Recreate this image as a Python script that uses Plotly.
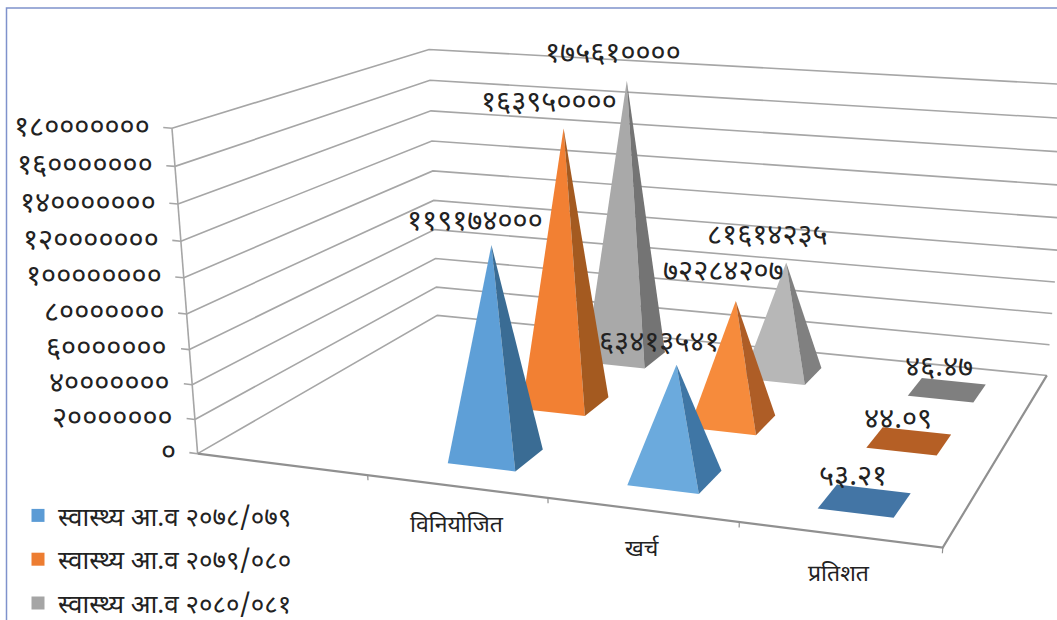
import numpy as np
import plotly.graph_objects as go

categories = ["", "विनियोजित", "खर्च", "प्रतिशत"]
series_names = ["स्वास्थ्य आ.व २०७८/०७९", "स्वास्थ्य आ.व २०७९/०८०", "स्वास्थ्य आ.व २०८०/०८१"]
values_a = [None, 119174000, 63413541, 53.21]
values_b = [None, 163950000, 72284207, 44.09]
# the reference prints 81614235 for the second grey pyramid but draws it near 71 million
values_c = [None, 175610000, 71000000, 46.47]
labels_a = [None, "११९१७४०००", "६३४१३५४१", "५३.२१"]
labels_b = [None, "१६३९५००००", "७२२८४२०७", "४४.०९"]
labels_c = [None, "१७५६१००००", "८१६१४२३५", "४६.४७"]
z_ticks = [0, 20000000, 40000000, 60000000, 80000000, 100000000, 120000000, 140000000, 160000000, 180000000]
z_tick_labels = ["०", "२०००००००", "४०००००००", "६०००००००", "८०००००००", "१००००००००", "१२०००००००", "१४०००००००", "१६०००००००", "१८०००००००"]
W, H = 1057.0, 620.0

# perspective of the chart box: (category, series depth, value / 1e8) -> page pixels
M = np.array([[159.74411, 115.11778, -19.970539, 197.63012],
              [8.0740592, -20.696119, -185.08567, 453.67447],
              [-0.028151092, 0.080549231, -0.033232615, 1.0]])
wx, wy = 0.19148, 0.18844   # half size of a pyramid base

def proj(pts):
    pts = np.asarray(pts, float)
    h = np.c_[pts, np.ones(len(pts))] @ M.T
    return h[:, :2] / h[:, 2:3]

FRONT = [["#5E9FD7", "#6BAADD", "#4375A5"], ["#F28033", "#F68B3C", "#B55F25"], ["#A9A9A9", "#B7B7B7", "#7F7F7F"]]
SIDE = [["#3A6C94", "#3F76A5", "#4375A5"], ["#A45A20", "#AE5D26", "#B55F25"], ["#747474", "#808080", "#7F7F7F"]]
SWATCH = ["#5B9BD5", "#ED7D31", "#A5A5A5"]
SHIFTS = {(0,1):(-16,-22),(1,1):(-15,-24),(2,1):(-14,-26),(0,2):(-17,-21),(1,2):(-12,-28),(2,2):(-19,-26),(0,3):(-12,-23),(1,3):(-11,-20),(2,3):(-8,-21)}
TEXT = "#222222"
FONT = "Noto Sans Devanagari, Noto Sans, sans-serif"
all_vals = [values_a, values_b, values_c]
all_labels = [labels_a, labels_b, labels_c]
scale = 1e8

fig = go.Figure()
def poly(pts, color):
    xy = proj(pts)
    fig.add_trace(go.Scatter(x=list(xy[:,0])+[xy[0,0]], y=list(xy[:,1])+[xy[0,1]], mode="lines", fill="toself", fillcolor=color,
        line=dict(width=0, color=color), showlegend=False, hoverinfo="skip"))
def lines(segs, color, width):
    xs, ys = [], []
    for s in segs:
        xy = proj(s)
        xs += list(xy[:,0]) + [None]; ys += list(xy[:,1]) + [None]
    fig.add_trace(go.Scatter(x=xs, y=ys, mode="lines", line=dict(color=color, width=width), showlegend=False, hoverinfo="skip"))

zs = [z / scale for z in z_ticks]
nx, ny = len(categories), len(series_names)
lines([[(0,0,z),(0,ny,z),(nx,ny,z)] for z in zs] + [[(0,0,0),(0,0,zs[-1])]] + [[(-.05,0,z),(0,0,z)] for z in zs], "#A6A6A6", 1.6)
lines([[(0,0,0),(nx,0,0),(nx,ny,0)]], "#909090", 2.2)
lines([[(k,0,0),(k,0,-.03)] for k in range(1, nx+1)], "#909090", 1.2)

anns = []
for j in range(ny-1, -1, -1):
    for i, v in enumerate(all_vals[j]):
        if v is None:
            continue
        z = v / scale
        cx, cy = i + .5, j + .5
        fl, fr, rb, bl = (cx-wx,cy-wy,0), (cx+wx,cy-wy,0), (cx+wx,cy+wy,0), (cx-wx,cy+wy,0)
        if z < 0.01:
            poly([fl, fr, rb, bl], FRONT[j][i-1])
        else:
            top = (cx, cy, z)
            poly([fl, fr, top], FRONT[j][i-1])
            poly([fr, rb, top], SIDE[j][i-1])
        a = proj([(cx, cy, z)])[0]
        dx, dy = SHIFTS[(j, i)]
        anns.append(dict(x=a[0], y=a[1], text=all_labels[j][i], showarrow=False, xshift=dx, yshift=-dy, font=dict(size=29, color=TEXT, family=FONT)))
for z, t in zip(zs, z_tick_labels):
    a = proj([(0, 0, z)])[0]
    anns.append(dict(x=a[0], y=a[1], text=t, showarrow=False, xanchor="right", xshift=-20, height=33, font=dict(size=29, color=TEXT, family=FONT)))
for i, t in enumerate(categories):
    if t:
        a = proj([(i+.5, 0, 0)])[0]
        anns.append(dict(x=a[0], y=a[1], text=t, showarrow=False, yshift=-40, font=dict(size=23, color=TEXT, family=FONT)))
for n, col, gr in zip(series_names, SWATCH, "abc"):
    fig.add_trace(go.Scatter(x=[None], y=[None], mode="markers", name=n, legendgroup=gr, marker=dict(symbol="square", size=13, color=col)))

fig.update_layout(width=1057, height=620, margin=dict(l=0, r=0, t=0, b=0, autoexpand=False), paper_bgcolor="white", plot_bgcolor="white",
    xaxis=dict(range=[0, W], visible=False, fixedrange=True), yaxis=dict(range=[H, 0], visible=False, fixedrange=True),
    legend=dict(x=18/W, y=1-492/H, yanchor="top", xanchor="left", font=dict(size=26, color=TEXT, family=FONT), tracegroupgap=7, bgcolor="rgba(0,0,0,0)"),
    annotations=anns,
    shapes=[dict(type="rect", xref="x", yref="y", x0=6.5, x1=1100, y0=8, y1=700, line=dict(color="#7F92CC", width=1.5))])
fig.write_html("out.html", post_script="document.body.style.margin='0';", config=dict(displayModeBar=False))
